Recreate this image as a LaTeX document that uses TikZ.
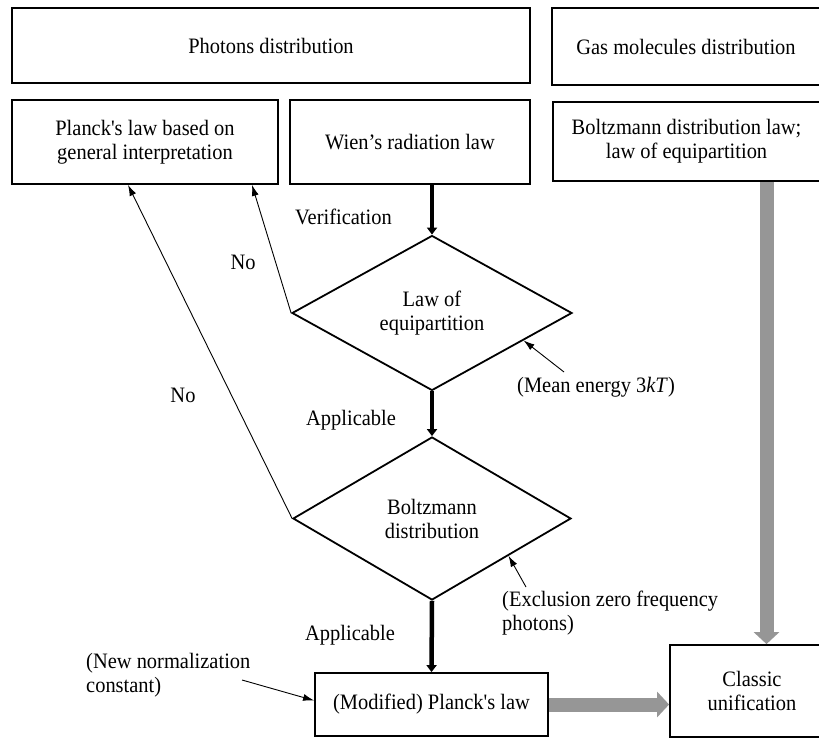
\documentclass[tikz,border=0pt]{standalone}
\usepackage{fontspec}
\newfontfamily\plainserif{Liberation Serif}[FakeStretch=0.93]
\usetikzlibrary{arrows.meta,shapes.geometric,calc}
\definecolor{arrgray}{RGB}{150,150,150}
\begin{document}
\begin{tikzpicture}[x=1pt,y=-1pt,
  every node/.style={font=\plainserif\fontsize{22}{24}\selectfont},
  box/.style={draw, line width=1.8pt, align=center, inner sep=0pt},
  dia/.style={draw, diamond, line width=1.8pt, align=center, inner sep=0pt},
  blackarrow/.style={line width=4.5pt, -{Triangle[width=10pt,length=7pt]}},
  thinarrow/.style={line width=0.9pt, -{Latex[length=11pt,width=7pt]}},
  grayarrow/.style={draw=arrgray, line width=14pt, -{Triangle[width=25pt,length=12pt]}},
  lbl/.style={inner sep=0pt, anchor=west, align=left}]
\clip (0,0) rectangle (819,738);

\node[box, minimum width=518pt, minimum height=75pt] (top1) at (271,45.5) {Photons distribution};
\node[box, minimum width=268pt, minimum height=77pt] (top2) at (686,46.5) {Gas molecules distribution};
\node[box, minimum width=266pt, minimum height=84pt] (planck) at (145,142) {Planck's law based on\\general interpretation};
\node[box, minimum width=240pt, minimum height=84pt] (wien) at (410,142) {Wien’s radiation law};
\node[box, minimum width=267pt, minimum height=79pt] (boltz) at (686.5,141.5) {Boltzmann distribution law;\\law of equipartition};

\node[dia, minimum width=280pt, minimum height=155pt] (dia1) at (432,313) {Law of\\equipartition};
\node[dia, minimum width=278pt, minimum height=163pt] (dia2) at (432,518.5) {Boltzmann\\distribution};

\node[box, minimum width=233pt, minimum height=63pt] (mod) at (431.5,704.5) {(Modified) Planck's law};
\node[box, minimum width=164pt, minimum height=92pt] (classic) at (752,691) {Classic\\unification};

\draw[blackarrow] (dia1.north |- wien.south) -- (dia1.north);
\draw[blackarrow] (dia1.south) -- (dia2.north);
\draw[blackarrow] (dia2.south) -- (mod.north);

\draw[thinarrow] (dia1.west) -- ([xshift=107pt]planck.south);
\draw[thinarrow] (dia2.west) -- ([xshift=-17pt]planck.south);

\coordinate (mtail) at (564,372);
\draw[thinarrow] (mtail) -- ($(dia1.south)!0.65!(dia1.east)$);
\coordinate (etail) at (526,587);
\draw[thinarrow] (etail) -- ($(dia2.south)!0.547!(dia2.east)$);
\coordinate (ntail) at (242,680);
\draw[thinarrow] (ntail) -- ([yshift=4pt]mod.west);

\draw[grayarrow] ([xshift=80pt]boltz.south) -- ([xshift=80pt]boltz.south |- classic.north);
\draw[grayarrow] (mod.east) -- (mod.east -| classic.west);

\node[lbl] (ver) at (295,217) {Verification};
\node (no1) at (243,262) {No};
\node (no2) at (183,395) {No};
\node[lbl] (app1) at (306,420) {Applicable};
\node[lbl] (app2) at (305,635) {Applicable};
\node[lbl] (mean) at (517,387) {(Mean energy 3\textit{kT})};
\node[lbl] (excl) at (502,613.5) {(Exclusion zero frequency\\photons)};
\node[lbl] (norm) at (86,675) {(New normalization\\constant)};
\end{tikzpicture}
\end{document}
